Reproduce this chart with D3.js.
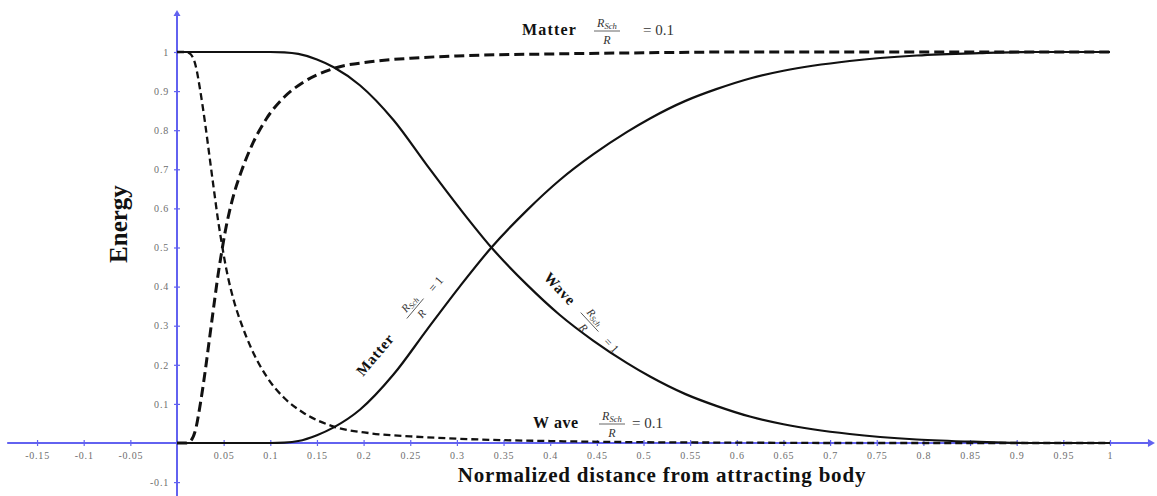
<!DOCTYPE html>
<html>
<head>
<meta charset="utf-8">
<script src="https://cdn.jsdelivr.net/npm/d3@7"></script>
<style>
  html, body { margin: 0; padding: 0; background: #fff; }
  svg { display: block; }
</style>
</head>
<body>
<svg id="chart" width="1157" height="496"></svg>
<script>
// Energy split between matter and wave versus normalised distance,
// for Schwarzschild ratios R_Sch/R = 1 (solid) and R_Sch/R = 0.1 (dashed).
const distanceR1 = [0, 0.1, 0.115, 0.13, 0.15, 0.168, 0.196, 0.232, 0.268, 0.303, 0.337, 0.375, 0.41, 0.446, 0.482, 0.507, 0.545, 0.578, 0.615, 0.65, 0.721, 0.793, 0.86, 0.92, 1];
const matterR1   = [0, 0, 0.001, 0.005, 0.02, 0.04, 0.085, 0.175, 0.29, 0.4, 0.5, 0.595, 0.672, 0.738, 0.795, 0.83, 0.875, 0.905, 0.933, 0.952, 0.977, 0.991, 0.997, 1, 1];
const waveR1     = [1, 1, 0.999, 0.995, 0.981, 0.961, 0.915, 0.826, 0.71, 0.6, 0.5, 0.405, 0.328, 0.262, 0.205, 0.17, 0.125, 0.095, 0.067, 0.048, 0.023, 0.009, 0.003, 0, 0];

const distanceR01 = [0, 0.01, 0.014, 0.02, 0.025, 0.03, 0.035, 0.04, 0.044, 0.048, 0.052, 0.056, 0.062, 0.069, 0.08, 0.096, 0.115, 0.135, 0.168, 0.207, 0.25, 0.3, 0.4, 0.5, 0.6, 0.7, 0.8, 1];
const matterR01   = [0, 0, 0.004, 0.035, 0.1, 0.18, 0.27, 0.36, 0.43, 0.49, 0.545, 0.59, 0.645, 0.695, 0.76, 0.83, 0.885, 0.922, 0.958, 0.975, 0.984, 0.99, 0.995, 0.998, 1, 1, 1, 1];
const waveR01     = [1, 1, 0.996, 0.965, 0.9, 0.82, 0.73, 0.64, 0.57, 0.51, 0.455, 0.41, 0.355, 0.305, 0.24, 0.17, 0.115, 0.078, 0.042, 0.025, 0.017, 0.011, 0.005, 0.002, 0.001, 0, 0, 0];

const xTickValues = [-0.15, -0.1, -0.05, 0.05, 0.1, 0.15, 0.2, 0.25, 0.3, 0.35, 0.4, 0.45, 0.5, 0.55, 0.6, 0.65, 0.7, 0.75, 0.8, 0.85, 0.9, 0.95, 1];
const xTickLabels = ["-0.15", "-0.1", "-0.05", "0.05", "0.1", "0.15", "0.2", "0.25", "0.3", "0.35", "0.4", "0.45", "0.5", "0.55", "0.6", "0.65", "0.7", "0.75", "0.8", "0.85", "0.9", "0.95", "1"];
const yTickValues = [-0.1, 0.1, 0.2, 0.3, 0.4, 0.5, 0.6, 0.7, 0.8, 0.9, 1];
const yTickLabels = ["-0.1", "0.1", "0.2", "0.3", "0.4", "0.5", "0.6", "0.7", "0.8", "0.9", "1"];

const xAxisExtent = [-0.182, 1.046];
const yAxisExtent = [-0.14, 1.1];

const svg = d3.select("#chart");
const x = d3.scaleLinear().domain([0, 1]).range([177, 1110]);
const y = d3.scaleLinear().domain([0, 1]).range([443, 52]);

const axisColor = "#6262f0";
const inkColor = "#111";
const serif = "'Liberation Serif', 'DejaVu Serif', serif";

// ----- axes -----
const axes = svg.append("g");
axes.append("line")
  .attr("x1", x(xAxisExtent[0])).attr("x2", x(xAxisExtent[1]))
  .attr("y1", y(0)).attr("y2", y(0))
  .attr("stroke", axisColor).attr("stroke-width", 2);
axes.append("line")
  .attr("x1", x(0)).attr("x2", x(0))
  .attr("y1", y(yAxisExtent[1])).attr("y2", y(yAxisExtent[0]))
  .attr("stroke", axisColor).attr("stroke-width", 2);
// arrow heads
axes.append("path")
  .attr("d", `M${x(xAxisExtent[1]) + 2},${y(0)} l-7,-4 l0,8 z`)
  .attr("fill", axisColor);
axes.append("path")
  .attr("d", `M${x(0)},${y(yAxisExtent[1]) - 3} l-3.5,6 l7,0 z`)
  .attr("fill", axisColor);

const gx = axes.append("g")
  .attr("transform", `translate(0,${y(0)})`)
  .call(d3.axisBottom(x).tickValues(xTickValues)
    .tickFormat((d, i) => xTickLabels[i]).tickSize(3).tickPadding(6));
gx.select(".domain").remove();
gx.selectAll(".tick line").attr("y1", -3).attr("stroke", axisColor).attr("stroke-width", 1.2);
gx.selectAll(".tick text")
  .attr("fill", "#6e6e6e").attr("font-family", serif).attr("font-size", 10)
  .attr("letter-spacing", 0.8);

const gy = axes.append("g")
  .attr("transform", `translate(${x(0)},0)`)
  .call(d3.axisLeft(y).tickValues(yTickValues)
    .tickFormat((d, i) => yTickLabels[i]).tickSize(3).tickPadding(5));
gy.select(".domain").remove();
gy.selectAll(".tick line").attr("x1", 3).attr("stroke", axisColor).attr("stroke-width", 1.2);
gy.selectAll(".tick text")
  .attr("fill", "#6e6e6e").attr("font-family", serif).attr("font-size", 10)
  .attr("letter-spacing", 0.8);

// ----- axis titles -----
svg.append("text")
  .attr("transform", `translate(127,${y(0.56)}) rotate(-90)`)
  .attr("text-anchor", "middle")
  .attr("font-family", serif).attr("font-weight", "bold").attr("font-size", 25)
  .attr("fill", inkColor)
  .text("Energy");

svg.append("text")
  .attr("x", 662).attr("y", 482)
  .attr("text-anchor", "middle")
  .attr("font-family", serif).attr("font-weight", "bold").attr("font-size", 21)
  .attr("letter-spacing", 0.8)
  .attr("fill", inkColor)
  .text("Normalized distance from attracting body");

// ----- curves -----
const line = d3.line()
  .x(d => x(d[0]))
  .y(d => y(d[1]))
  .curve(d3.curveMonotoneX);

const series = [
  { dist: distanceR01, vals: waveR01,   width: 2.3, dash: "7,4" },
  { dist: distanceR01, vals: matterR01, width: 3,   dash: "10,5" },
  { dist: distanceR1,  vals: waveR1,    width: 2.2, dash: null },
  { dist: distanceR1,  vals: matterR1,  width: 2.2, dash: null }
];

svg.append("g").selectAll("path")
  .data(series)
  .join("path")
  .attr("d", s => line(s.dist.map((d, i) => [d, s.vals[i]])))
  .attr("fill", "none")
  .attr("stroke", inkColor)
  .attr("stroke-width", s => s.width)
  .attr("stroke-dasharray", s => s.dash)
  .attr("stroke-linecap", "butt");

// ----- curve labels -----
// word, then R_Sch / R fraction, then "= value"
function curveLabel(g, opt) {
  g.append("text")
    .attr("x", 0).attr("y", 0)
    .attr("font-family", serif).attr("font-weight", "bold")
    .attr("font-size", opt.wordSize).attr("letter-spacing", opt.wordSpacing)
    .attr("fill", inkColor)
    .text(opt.word);
  const num = g.append("text")
    .attr("x", opt.fracX).attr("y", opt.barY - 4)
    .attr("text-anchor", "middle")
    .attr("font-family", serif).attr("font-style", "italic")
    .attr("font-size", opt.fracSize).attr("fill", "#333");
  num.append("tspan").text("R");
  num.append("tspan").attr("font-size", opt.fracSize * 0.72).attr("dy", 2).text("Sch");
  g.append("line")
    .attr("x1", opt.fracX - 13).attr("x2", opt.fracX + 13)
    .attr("y1", opt.barY).attr("y2", opt.barY)
    .attr("stroke", "#555").attr("stroke-width", 0.9);
  g.append("text")
    .attr("x", opt.fracX).attr("y", opt.barY + opt.fracSize + 1)
    .attr("text-anchor", "middle")
    .attr("font-family", serif).attr("font-style", "italic")
    .attr("font-size", opt.fracSize).attr("fill", "#333")
    .text("R");
  g.append("text")
    .attr("x", opt.eqX).attr("y", 0)
    .attr("font-family", serif).attr("font-size", opt.eqSize)
    .attr("fill", "#333")
    .text(opt.eq);
}

curveLabel(svg.append("g").attr("transform", "translate(522,35)"), {
  word: "Matter", wordSize: 16, wordSpacing: 1.2,
  fracX: 85, barY: -4, fracSize: 12, eqX: 121, eq: "= 0.1", eqSize: 15
});

curveLabel(svg.append("g").attr("transform", "translate(533,428)"), {
  word: "W ave", wordSize: 16, wordSpacing: 0.6,
  fracX: 79, barY: -4, fracSize: 12, eqX: 99, eq: "= 0.1", eqSize: 15
});

curveLabel(svg.append("g").attr("transform", "translate(363,377) rotate(-50)"), {
  word: "Matter", wordSize: 15, wordSpacing: 0.8,
  fracX: 86, barY: -4, fracSize: 11, eqX: 110, eq: "= 1", eqSize: 12
});

curveLabel(svg.append("g").attr("transform", "translate(543,278) rotate(47)"), {
  word: "Wave", wordSize: 15, wordSpacing: 0.8,
  fracX: 64, barY: -4, fracSize: 11, eqX: 88, eq: "= 1", eqSize: 12
});
</script>
</body>
</html>
